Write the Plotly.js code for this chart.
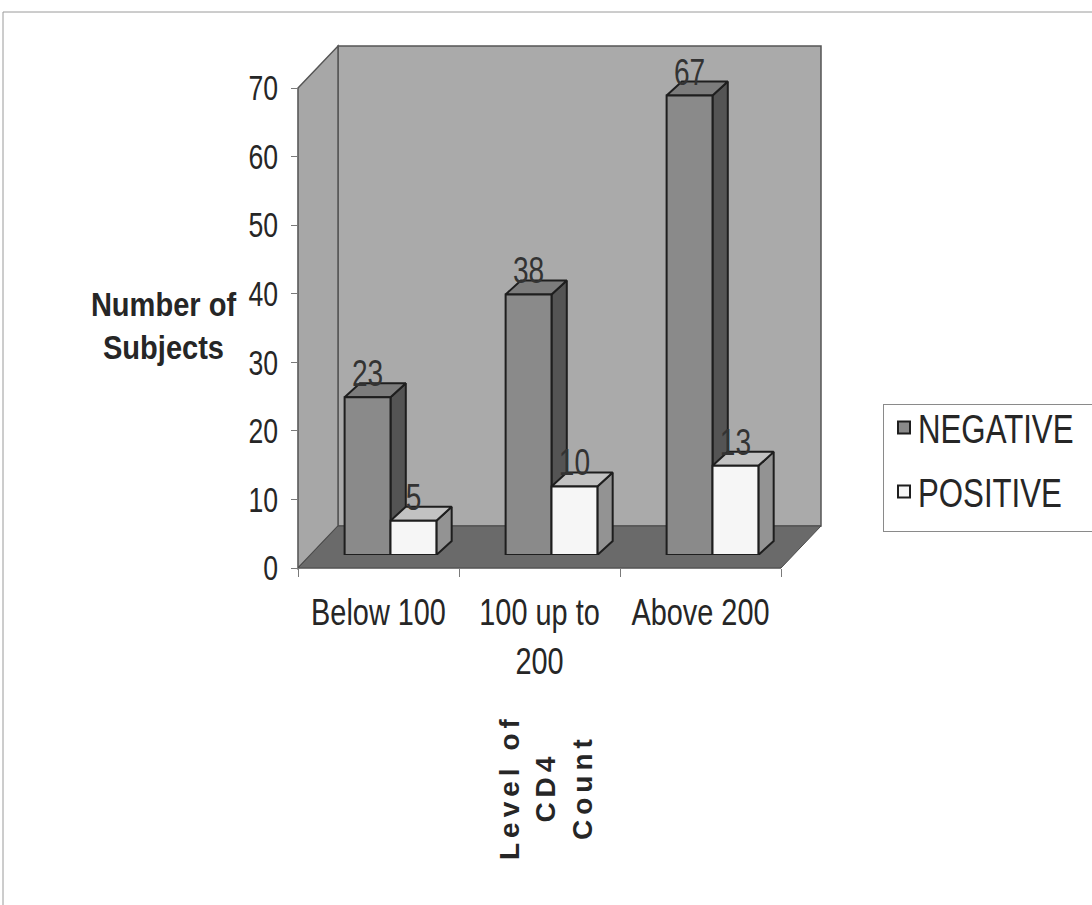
<!DOCTYPE html>
<html>
<head>
<meta charset="utf-8">
<script src="https://cdn.plot.ly/plotly-3.0.1.min.js"></script>
<style>
  html, body { margin: 0; padding: 0; background: #ffffff; overflow: hidden; }
  #chart { width: 1092px; height: 905px; }
</style>
</head>
<body>
<div id="chart"></div>
<script>
// ---------------- data ----------------
const categories = ['Below 100', '100 up to<br>200', 'Above 200'];
const seriesNames = ['NEGATIVE', 'POSITIVE'];
const negativeValues = [23, 38, 67];
const positiveValues = [5, 10, 13];
const yTickValues = [0, 10, 20, 30, 40, 50, 60, 70];
const yAxisTitle = 'Number of<br>Subjects';
const xAxisTitle = 'Level of<br>CD4<br>Count';

// ---------------- styling / geometry ----------------
const W = 1092, H = 905;
const FONT = '"Liberation Sans", Arial, sans-serif';
const NARROW = 0.78;               // horizontal squeeze to imitate a narrow face
const px = x => x / W;
const py = y => 1 - y / H;

const FRONT = { left: 298, right: 781, top: 88, bottom: 568 };
const BOX_D = { dx: 40, dy: -42 };
const BAR_D = { dx: 12, dy: -13 };
const BAR_DEPTH_X = 0.095;
const BAR_DEPTH_Y = 2.04;
const BARGAP = 0.43;

const COLORS = {
  negFront: '#8a8a8a', negSide: '#545454', negTop: '#7c7c7c',
  posFront: '#f6f6f6', posSide: '#939393', posTop: '#c2c2c2',
  wall: '#aaaaaa', sideWall: '#a7a7a7', floor: '#6a6a6a',
  outline: '#1e1e1e', axis: '#7a7a7a', text: '#262626'
};

// ---------------- 3D faces built from the data ----------------
const barW = (1 - BARGAP) / 2;
function faces(values, offsetIndex) {
  const side = { x: [], y: [] }, top = { x: [], y: [] };
  values.forEach((v, i) => {
    const xl = i - barW + offsetIndex * barW;
    const xr = xl + barW;
    side.x.push(xr, xr + BAR_DEPTH_X, xr + BAR_DEPTH_X, xr, xr, null);
    side.y.push(0, BAR_DEPTH_Y, v + BAR_DEPTH_Y, v, 0, null);
    top.x.push(xl, xl + BAR_DEPTH_X, xr + BAR_DEPTH_X, xr, xl, null);
    top.y.push(v, v + BAR_DEPTH_Y, v + BAR_DEPTH_Y, v, v, null);
  });
  return { side, top };
}
const negFaces = faces(negativeValues, 0);
const posFaces = faces(positiveValues, 1);

function faceTrace(f, color) {
  return {
    type: 'scatter', mode: 'lines', x: f.x, y: f.y,
    xaxis: 'x2', yaxis: 'y2', fill: 'toself', fillcolor: color,
    line: { color: COLORS.outline, width: 2 }, connectgaps: false,
    hoverinfo: 'skip', showlegend: false
  };
}
const plainCategories = categories.map(c => c.replace('<br>', ' '));
const labelFont = { family: FONT, size: 36, color: '#333333' };

const traces = [
  // empty trace so the front axis frame (x / y) is created
  { type: 'scatter', mode: 'markers', x: [], y: [], xaxis: 'x', yaxis: 'y', showlegend: false, hoverinfo: 'skip' },
  faceTrace(negFaces.side, COLORS.negSide),
  faceTrace(negFaces.top, COLORS.negTop),
  faceTrace(posFaces.side, COLORS.posSide),
  faceTrace(posFaces.top, COLORS.posTop),
  {
    type: 'bar', name: seriesNames[0], x: plainCategories, y: negativeValues,
    xaxis: 'x3', yaxis: 'y3', legendgroup: 'neg',
    marker: { color: COLORS.negFront, line: { color: COLORS.outline, width: 2 } },
    texttemplate: '%{y}', textposition: 'outside', cliponaxis: false, constraintext: 'none',
    textfont: labelFont
  },
  {
    type: 'bar', name: seriesNames[1], x: plainCategories, y: positiveValues,
    xaxis: 'x3', yaxis: 'y3', legendgroup: 'pos',
    marker: { color: COLORS.posFront, line: { color: COLORS.outline, width: 2 } },
    texttemplate: '%{y}', textposition: 'outside', cliponaxis: false, constraintext: 'none',
    textfont: labelFont
  }
];

// ---------------- walls / floor ----------------
const F = FRONT, D = BOX_D;
function poly(points) {
  return 'M' + points.map(p => px(p[0]) + ',' + py(p[1])).join(' L') + ' Z';
}
const shapes = [
  { type: 'rect', xref: 'paper', yref: 'paper', x0: px(3), x1: px(1300), y0: py(12), y1: py(1000),
    line: { color: '#9a9a9a', width: 1 }, fillcolor: 'rgba(0,0,0,0)', layer: 'below' },
  { type: 'path', xref: 'paper', yref: 'paper', layer: 'below',
    path: poly([[F.left + D.dx, F.top + D.dy], [F.right + D.dx, F.top + D.dy], [F.right + D.dx, F.bottom + D.dy], [F.left + D.dx, F.bottom + D.dy]]),
    fillcolor: COLORS.wall, line: { color: '#555555', width: 1.5 } },
  { type: 'path', xref: 'paper', yref: 'paper', layer: 'below',
    path: poly([[F.left, F.top], [F.left + D.dx, F.top + D.dy], [F.left + D.dx, F.bottom + D.dy], [F.left, F.bottom]]),
    fillcolor: COLORS.sideWall, line: { color: '#555555', width: 1.5 } },
  { type: 'path', xref: 'paper', yref: 'paper', layer: 'below',
    path: poly([[F.left, F.bottom], [F.right, F.bottom], [F.right + D.dx, F.bottom + D.dy], [F.left + D.dx, F.bottom + D.dy]]),
    fillcolor: COLORS.floor, line: { color: '#4a4a4a', width: 1 } }
];

// ---------------- layout ----------------
const frontX = [px(F.left), px(F.right)];
const frontY = [py(F.bottom), py(F.top)];
const barX = [px(F.left + BAR_D.dx), px(F.right + BAR_D.dx)];
const barY = [py(F.bottom + BAR_D.dy), py(F.top + BAR_D.dy)];

const layout = {
  width: W, height: H,
  margin: { l: 0, r: 0, t: 0, b: 0, pad: 0, autoexpand: false },
  paper_bgcolor: '#ffffff', plot_bgcolor: 'rgba(0,0,0,0)',
  font: { family: FONT, color: COLORS.text },
  showlegend: true,
  barmode: 'group', bargap: BARGAP, bargroupgap: 0,
  shapes: shapes,
  xaxis: {
    domain: frontX, range: [-0.5, 2.5], type: 'linear',
    tickmode: 'array', tickvals: [0, 1, 2], ticktext: categories,
    ticks: '', ticklabelstandoff: 12, tickangle: 0,
    tickfont: { family: FONT, size: 37, color: COLORS.text },
    minor: { tickmode: 'array', tickvals: [-0.5, 0.5, 1.5, 2.5], ticks: 'outside', ticklen: 8, tickcolor: COLORS.axis, tickwidth: 1 },
    showline: true, linecolor: COLORS.axis, linewidth: 1,
    showgrid: false, zeroline: false, fixedrange: true
  },
  yaxis: {
    domain: frontY, range: [0, 70], tickmode: 'array', tickvals: yTickValues,
    ticks: 'outside', ticklen: 6, tickcolor: COLORS.axis, ticklabelstandoff: 6,
    tickfont: { family: FONT, size: 35, color: COLORS.text },
    showline: true, linecolor: COLORS.axis, linewidth: 1,
    showgrid: false, zeroline: false, fixedrange: true
  },
  xaxis2: { domain: barX, range: [-0.5, 2.5], anchor: 'y2', visible: false, fixedrange: true },
  yaxis2: { domain: barY, range: [0, 70], anchor: 'x2', visible: false, fixedrange: true },
  xaxis3: { domain: barX, range: [-0.5, 2.5], type: 'category', anchor: 'y3', overlaying: 'x2', visible: false, fixedrange: true },
  yaxis3: { domain: barY, range: [0, 70], anchor: 'x3', overlaying: 'y2', visible: false, fixedrange: true },
  legend: {
    x: px(883), y: py(404), xanchor: 'left', yanchor: 'top',
    bgcolor: '#ffffff', bordercolor: '#8a8a8a', borderwidth: 1,
    font: { family: FONT, size: 40, color: COLORS.text },
    traceorder: 'grouped', tracegroupgap: 6, itemwidth: 30
  },
  annotations: [
    { xref: 'paper', yref: 'paper', x: px(164), y: py(326), xanchor: 'center', yanchor: 'middle',
      text: '<b>' + yAxisTitle + '</b>', showarrow: false, align: 'center',
      font: { family: FONT, size: 33, color: COLORS.text } },
    { xref: 'paper', yref: 'paper', x: px(546), y: py(787), xanchor: 'center', yanchor: 'middle',
      text: '<b>' + xAxisTitle + '</b>', showarrow: false, align: 'center', textangle: -90,
      font: { family: FONT, size: 28, color: COLORS.text } }
  ]
};

// squeeze text horizontally (keeps it as real text) to imitate the narrow typeface
function squeeze(root, selector, factor) {
  root.querySelectorAll(selector).forEach(t => {
    const lines = t.querySelectorAll('tspan.line');
    const targets = lines.length ? Array.from(lines) : [t];
    targets.forEach(el => {
      const w = el.getComputedTextLength();
      if (w > 0) {
        el.setAttribute('textLength', (w * factor).toFixed(1));
        el.setAttribute('lengthAdjust', 'spacingAndGlyphs');
      }
    });
  });
}

Plotly.newPlot('chart', traces, layout, { staticPlot: true, displayModeBar: false }).then(gd => {
  squeeze(gd, '.xtick text', NARROW);
  squeeze(gd, '.ytick text', 0.76);
  squeeze(gd, '.bartext', NARROW);
  squeeze(gd, '.legendtext', NARROW);
  const anns = gd.querySelectorAll('.annotation-text');
  if (anns[0]) squeeze(anns[0].parentNode, '.annotation-text', 0.88);
  if (anns[1]) anns[1].style.letterSpacing = '5px';
  gd.querySelectorAll('.legendtext').forEach(t => t.setAttribute('x', 34));
  // pull the legend entries up a little, as in the original
  gd.querySelectorAll('.legend .traces').forEach((g, i) => {
    const m = /translate\(([-\d.]+),\s*([-\d.]+)\)/.exec(g.getAttribute('transform') || '');
    if (m) g.setAttribute('transform', 'translate(' + m[1] + ',' + (parseFloat(m[2]) - (i === 0 ? 10 : 7)) + ')');
  });
});
</script>
</body>
</html>
